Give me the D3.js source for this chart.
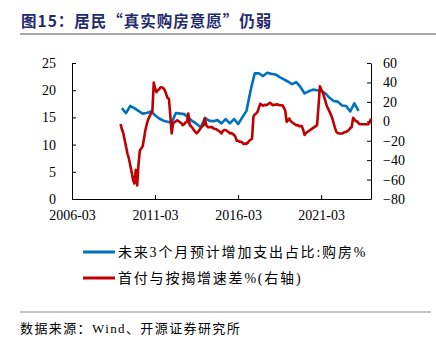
<!DOCTYPE html>
<html>
<head>
<meta charset="utf-8">
<script src="https://cdn.jsdelivr.net/npm/d3@7"></script>
<style>
  html, body { margin: 0; padding: 0; background: #fff; }
  svg { display: block; }
</style>
</head>
<body>
<svg id="chart" width="436" height="346"></svg>
<script>
// Quarterly survey share planning to spend on housing (left axis), from 2009-03
const surveyStart = [2009, 2];
const surveyValues = [
  16.7, 15.8, 17.1, 16.7, 16.2, 15.7, 15.8, 16.1, 15.4, 14.8,
  14.4, 14.2, 14.0, 15.8, 15.7, 15.6, 15.0, 14.3, 13.8, 13.2,
  14.9, 14.4, 14.3, 14.5, 13.9, 14.7, 13.9, 14.7, 13.8, 15.0,
  16.2, 20.0, 23.1, 23.1, 22.6, 23.2, 23.0, 22.9, 22.4, 22.0,
  21.6, 21.1, 21.5, 20.6, 19.4, 19.8, 20.1, 20.0, 19.9, 19.4,
  18.6, 18.0, 17.9, 17.2, 17.1, 16.1, 17.6, 16.2
];

// Monthly growth gap between down payments and mortgages (right axis), from 2009-02
const gapStart = [2009, 1];
const gapValues = [
  -3, -8, -12, -19, -26, -33, -38, -45, -52, -60,
  -64, -50, -66, -45, -30, -28, -26, -18, -9, -3,
  2, 5, 8, 10, 40, 34, 30, 32, 33, 35,
  35, 34, 32, 28, 24, 23, 5, -12.5, -2, -1,
  0, 1, 0, -1, -2, -4, -3, -1, -1, 8,
  -4, -5, -7, -9, -11, -12.5, -11, -9, -7, -5,
  -4, 3, -4, -6, -6, -6, -6, -7, -8, -8,
  -9, -10, -11, -12.5, -10, -9, -9, -10, -11, -12.5,
  -12, -13, -14, -16, -20, -20, -21, -21, -22, -23.5,
  -23, -23, -22, -20, -19, -18, 5, 7, 8, 9.6,
  14, 18, 17, 16, 17, 16.5, 17, 18, 19, 18,
  16.5, 17, 17, 17.5, 17, 16.5, 16.5, 16.5, 14, 11,
  -0.6, 1, 2.8, 0, -1, -2, -3, -4, -4, -5,
  -5, -5, -9, -14, -12, -11, -10, -9, -8, -7,
  -6, -5, -4, 15, 36, 33, 30, 26, 21, 16,
  13, 10, 7, 3, -2, -7, -11, -12, -12.5, -12.5,
  -12.5, -12, -11, -11, -10, -9, -7, -6, 3.5, 2,
  0, 0, -2, -3, -3, -3, -3, -3, -3, -3,
  -1, 2.8
];

const xTickLabels = ["2006-03", "2011-03", "2016-03", "2021-03"];
const xDomainLabels = ["2006-03", "2024-03"];
const leftTicks = [0, 5, 10, 15, 20, 25];
const rightTicks = [-80, -60, -40, -20, 0, 20, 40, 60];
const seriesNames = ["未来3个月预计增加支出占比:购房%", "首付与按揭增速差%(右轴)"];
const seriesColors = ["#0070C0", "#C00000"];

const titleText = "图15：居民“真实购房意愿”仍弱";
const sourceText = "数据来源：Wind、开源证券研究所";

const parseYM = d3.timeParse("%Y-%m");
const survey = surveyValues.map((v, i) => ({ date: new Date(surveyStart[0], surveyStart[1] + 3 * i, 1), value: v }));
const gap = gapValues.map((v, i) => ({ date: new Date(gapStart[0], gapStart[1] + i, 1), value: v }));

const svg = d3.select("#chart");
const cjk = "'Liberation Serif', 'Noto Sans CJK SC', serif";

const plot = { left: 72, right: 371, top: 63, bottom: 199 };

const x = d3.scaleTime()
  .domain(xDomainLabels.map(parseYM))
  .range([plot.left, plot.right]);
const yL = d3.scaleLinear().domain([0, 25]).range([plot.bottom, plot.top]);
const yR = d3.scaleLinear().domain([-80, 60]).range([plot.bottom, plot.top]);

// Title and rule
svg.append("text")
  .attr("x", 21).attr("y", 27)
  .attr("fill", "#1F2A6E")
  .attr("font-family", "'Noto Sans CJK SC', sans-serif")
  .attr("font-weight", 700)
  .attr("font-size", 15.5)
  .attr("letter-spacing", 1.0)
  .text(titleText);
svg.append("line")
  .attr("x1", 20).attr("x2", 436).attr("y1", 34).attr("y2", 34)
  .attr("stroke", "#8c8c8c").attr("stroke-width", 1.5);

// Axes
function styleAxis(g) {
  g.selectAll(".domain").attr("stroke", "#000").attr("stroke-width", 1);
  g.selectAll(".tick line").attr("stroke", "#000");
  g.selectAll(".tick text")
    .attr("fill", "#000")
    .attr("font-family", "'Liberation Serif', serif")
    .attr("font-size", 14);
}

svg.append("g")
  .attr("transform", `translate(0,${plot.bottom})`)
  .call(d3.axisBottom(x)
    .tickValues(xTickLabels.map(parseYM))
    .tickFormat(d3.timeFormat("%Y-%m"))
    .tickSizeInner(-4).tickSizeOuter(0).tickPadding(11))
  .call(styleAxis);

svg.append("g")
  .attr("transform", `translate(${plot.left},0)`)
  .call(d3.axisLeft(yL).tickValues(leftTicks).tickSizeInner(-4).tickSizeOuter(0).tickPadding(16))
  .call(styleAxis);

svg.append("g")
  .attr("transform", `translate(${plot.right},0)`)
  .call(d3.axisRight(yR).tickValues(rightTicks).tickSizeInner(-4).tickSizeOuter(0).tickPadding(12))
  .call(styleAxis);

// Series lines
const lineL = d3.line().x(d => x(d.date)).y(d => yL(d.value));
const lineR = d3.line().x(d => x(d.date)).y(d => yR(d.value));

svg.append("path")
  .datum(survey)
  .attr("fill", "none")
  .attr("stroke", seriesColors[0])
  .attr("stroke-width", 2.6)
  .attr("stroke-linejoin", "round")
  .attr("d", lineL);

svg.append("path")
  .datum(gap)
  .attr("fill", "none")
  .attr("stroke", seriesColors[1])
  .attr("stroke-width", 2.6)
  .attr("stroke-linejoin", "round")
  .attr("d", lineR);

// Legend
const legend = svg.append("g");
seriesNames.forEach((name, i) => {
  const yy = 252 + i * 26;
  legend.append("line")
    .attr("x1", 83).attr("x2", 115).attr("y1", yy).attr("y2", yy)
    .attr("stroke", seriesColors[i]).attr("stroke-width", 3);
  legend.append("text")
    .attr("x", 118).attr("y", yy + 5)
    .attr("fill", "#000")
    .attr("font-family", cjk)
    .attr("font-size", 14)
    .attr("letter-spacing", 1.8)
    .text(name);
});

// Source rule and note
svg.append("line")
  .attr("x1", 20).attr("x2", 431).attr("y1", 312).attr("y2", 312)
  .attr("stroke", "#8c8c8c").attr("stroke-width", 1.2);
svg.append("text")
  .attr("x", 20).attr("y", 333)
  .attr("fill", "#000")
  .attr("font-family", cjk)
  .attr("font-size", 13)
  .attr("letter-spacing", 1.4)
  .text(sourceText);
</script>
</body>
</html>
